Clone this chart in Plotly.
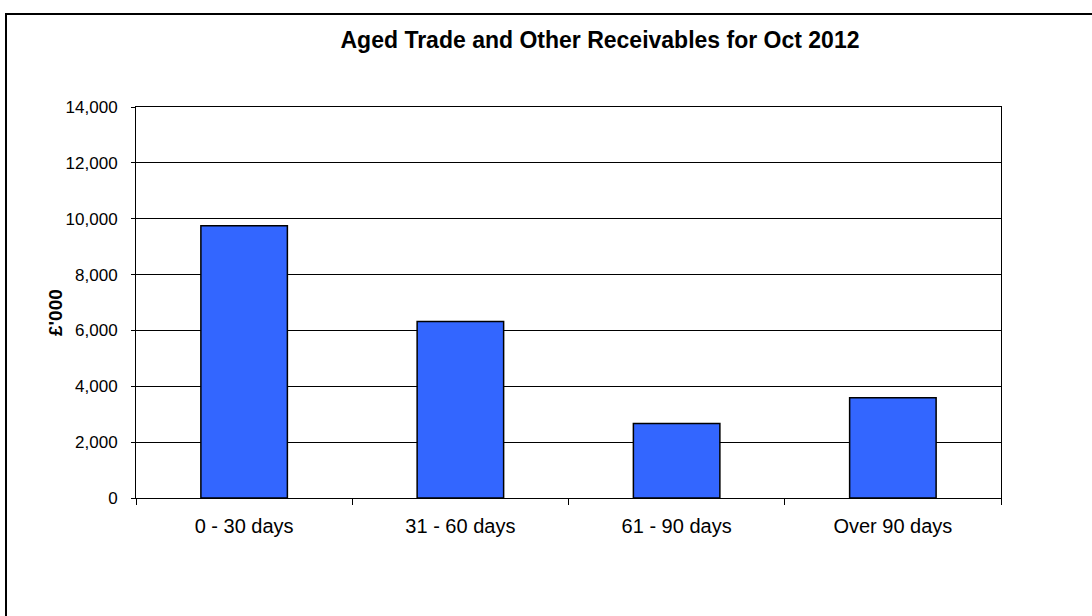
import plotly.graph_objects as go

categories = ["0 - 30 days", "31 - 60 days", "61 - 90 days", "Over 90 days"]
values = [9750, 6320, 2670, 3590]
y_ticks = [0, 2000, 4000, 6000, 8000, 10000, 12000, 14000]
y_tick_text = ["0", "2,000", "4,000", "6,000", "8,000", "10,000", "12,000", "14,000"]
title_text = "Aged Trade and Other Receivables for Oct 2012"
y_title = "£'000"

W, H = 1092, 616
L, R, T, B = 136, 91, 107, 118
pw, ph = W - L - R, H - T - B

fig = go.Figure()
fig.add_trace(go.Bar(
    x=categories, y=values,
    marker=dict(color="#3366FF", line=dict(color="black", width=1.5)),
    hoverinfo="x+y",
))

FONT = "Liberation Sans, Arial, sans-serif"

fig.update_layout(
    width=W, height=H,
    margin=dict(l=L, r=R, t=T, b=B, pad=0),
    paper_bgcolor="white", plot_bgcolor="white",
    bargap=0.6,
    showlegend=False,
    font=dict(family=FONT, color="black"),
    title=dict(text="<b>" + title_text + "</b>", x=600 / W, xanchor="center",
               y=1 - 40 / H, yanchor="middle", xref="container", yref="container",
               font=dict(family=FONT, size=23, color="black")),
    xaxis=dict(
        showline=True, linecolor="black", linewidth=1, mirror=True,
        ticks="outside", tickson="boundaries", ticklen=6, tickcolor="black",
        tickfont=dict(family=FONT, size=20, color="black"),
        ticklabelstandoff=10,
        showgrid=False,
    ),
    yaxis=dict(
        range=[0, 14000], tickvals=y_ticks, ticktext=y_tick_text,
        showline=True, linecolor="black", linewidth=1, mirror=True,
        ticks="outside", ticklen=4, tickcolor="black",
        tickfont=dict(family=FONT, size=17, color="black"),
        ticklabelstandoff=10,
        showgrid=True, gridcolor="black", gridwidth=1,
        zeroline=False,
    ),
)

fig.add_annotation(
    text="<b>" + y_title + "</b>", textangle=-90,
    xref="paper", yref="paper",
    x=(55 - L) / pw, y=(H - B - 313) / ph,
    xanchor="center", yanchor="middle", showarrow=False,
    font=dict(family=FONT, size=19, color="black"),
)

fig.add_shape(
    type="rect", xref="paper", yref="paper",
    x0=(6 - L) / pw, x1=(1200 - L) / pw,
    y0=(H - B - 700) / ph, y1=(H - B - 14) / ph,
    line=dict(color="black", width=2), fillcolor="rgba(0,0,0,0)",
    layer="below",
)

fig.write_html("out.html")
